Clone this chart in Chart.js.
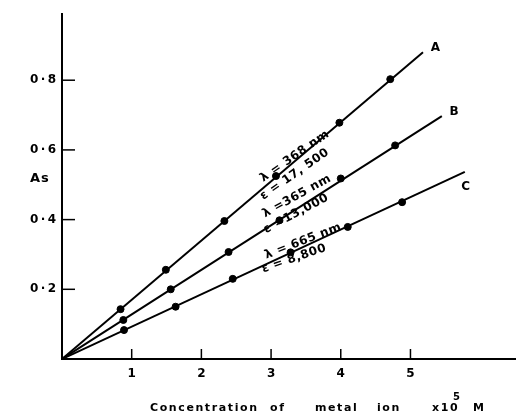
<!DOCTYPE html>
<html>
<head>
<meta charset="utf-8">
<script src="https://cdn.jsdelivr.net/npm/chart.js@4.4.1/dist/chart.umd.min.js"></script>
<style>
  body { margin: 0; background: #fff; }
  #wrap { width: 520px; height: 415px; }
</style>
</head>
<body>
<div id="wrap"><canvas id="absChart" width="520" height="415"></canvas></div>
<script>
// measured points (conc x10^5 M, absorbance)
var concA = [0.84, 1.49, 2.33, 3.07, 3.98, 4.71];
var absA  = [0.143, 0.256, 0.396, 0.525, 0.678, 0.803];
var concB = [0.88, 1.56, 2.39, 3.12, 4.00, 4.78];
var absB  = [0.112, 0.200, 0.307, 0.398, 0.518, 0.613];
var concC = [0.89, 1.63, 2.45, 3.28, 4.10, 4.88];
var absC  = [0.083, 0.150, 0.230, 0.306, 0.379, 0.450];

// straight lines drawn from the origin to these ends
var curveNames = ['A', 'B', 'C'];
var lineEndX = [5.18, 5.45, 5.78];
var lineEndY = [0.880, 0.697, 0.537];
var nameX = [5.29, 5.56, 5.73];
var nameY = [0.892, 0.708, 0.495];

// notes written along the lines
var noteText  = ['λ = 368 nm', 'ε = 17, 500', 'λ =365 nm', 'ε =13,000', 'λ = 665 nm', 'ε = 8,800'];
var noteX     = [3.34, 3.34, 3.37, 3.36, 3.46, 3.33];
var noteY     = [0.582, 0.530, 0.467, 0.417, 0.338, 0.288];
var noteAngle = [-35, -35, -29, -28, -21, -19];

var xTicks = [1, 2, 3, 4, 5];
var yTicks = [0.2, 0.4, 0.6, 0.8];

function pts(xs, ys) {
    return xs.map(function(v, i) { return { x: v, y: ys[i] }; });
}

var datasets = [];
[[concA, absA], [concB, absB], [concC, absC]].forEach(function(s, i) {
    datasets.push({
        type: 'line',
        data: [{ x: 0, y: 0 }, { x: lineEndX[i], y: lineEndY[i] }],
        borderColor: '#000',
        borderWidth: 2,
        pointRadius: 0,
        showLine: true
    });
    datasets.push({
        type: 'scatter',
        data: pts(s[0], s[1]),
        backgroundColor: '#000',
        borderColor: '#000',
        pointRadius: 3.5
    });
});

var tickFont = { family: 'DejaVu Sans', size: 12, weight: 'bold' };

var overlay = {
    id: 'overlay',
    afterDraw: function(chart) {
        var ctx = chart.ctx;
        var xs = chart.scales.x, ys = chart.scales.y;
        var ca = chart.chartArea;
        ctx.save();
        ctx.strokeStyle = '#000';
        ctx.fillStyle = '#000';
        ctx.lineWidth = 1.5;
        // inward tick marks
        xTicks.forEach(function(v) {
            var px = xs.getPixelForValue(v);
            ctx.beginPath(); ctx.moveTo(px, ca.bottom); ctx.lineTo(px, ca.bottom - 10); ctx.stroke();
        });
        yTicks.forEach(function(v) {
            var py = ys.getPixelForValue(v);
            ctx.beginPath(); ctx.moveTo(ca.left, py); ctx.lineTo(ca.left + 13, py); ctx.stroke();
        });
        // curve names
        ctx.font = 'bold 12px "DejaVu Sans"';
        ctx.textAlign = 'left';
        ctx.textBaseline = 'middle';
        curveNames.forEach(function(n, i) {
            ctx.fillText(n, xs.getPixelForValue(nameX[i]), ys.getPixelForValue(nameY[i]));
        });
        // rotated notes
        ctx.font = 'bold 12px "DejaVu Sans"';
        ctx.textAlign = 'center';
        ctx.letterSpacing = '0.5px';
        noteText.forEach(function(t, i) {
            ctx.save();
            ctx.translate(xs.getPixelForValue(noteX[i]), ys.getPixelForValue(noteY[i]));
            ctx.rotate(noteAngle[i] * Math.PI / 180);
            ctx.fillText(t, 0, 0);
            ctx.restore();
        });
        // axis titles
        ctx.textAlign = 'left';
        ctx.letterSpacing = '1px';
        ctx.font = 'bold 13px "DejaVu Sans"';
        ctx.fillText('As', 30, 179);
        ctx.letterSpacing = '1.6px';
        ctx.font = 'bold 11px "DejaVu Sans"';
        var words = ['Concentration', 'of', 'metal', 'ion', 'x10', 'M'];
        var wordX = [150, 270, 315, 377, 432, 473];
        words.forEach(function(w, i) { ctx.fillText(w, wordX[i], 408); });
        ctx.font = 'bold 10px "DejaVu Sans"';
        ctx.fillText('5', 453, 397);
        ctx.restore();
    }
};

new Chart(document.getElementById('absChart'), {
    data: { datasets: datasets },
    options: {
        responsive: false,
        animation: false,
        layout: { padding: { top: 14, right: 0, left: 0, bottom: 0 } },
        plugins: { legend: { display: false }, tooltip: { enabled: false } },
        scales: {
            x: {
                type: 'linear', min: 0, max: 6.5,
                afterBuildTicks: function(scale) { scale.ticks = xTicks.map(function(v) { return { value: v }; }); },
                afterFit: function(scale) { scale.height = 56; },
                grid: { display: false, drawTicks: false },
                border: { color: '#000', width: 2 },
                ticks: { color: '#000', font: tickFont, padding: 8 }
            },
            y: {
                type: 'linear', min: 0, max: 0.99,
                afterBuildTicks: function(scale) { scale.ticks = yTicks.map(function(v) { return { value: v }; }); },
                afterFit: function(scale) { scale.width = 62; },
                grid: { display: false, drawTicks: false },
                border: { color: '#000', width: 2 },
                ticks: {
                    color: '#000', font: tickFont, padding: 6,
                    callback: function(v) { return v.toFixed(1).replace('.', '\u2009·\u2009'); }
                }
            }
        }
    },
    plugins: [overlay]
});
</script>
</body>
</html>
